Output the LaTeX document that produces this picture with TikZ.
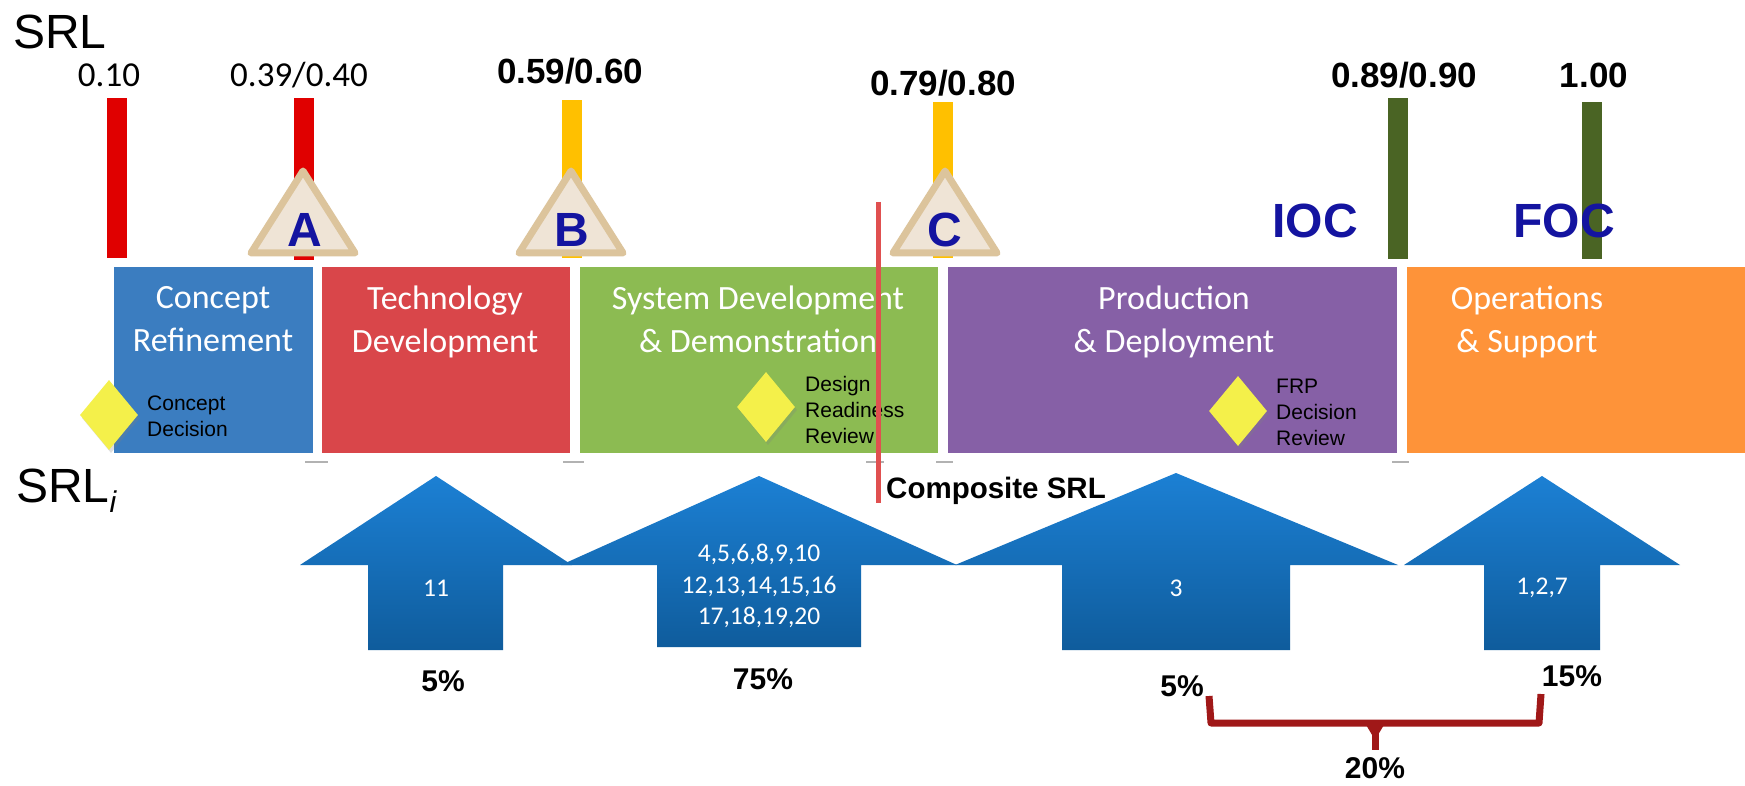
\documentclass[tikz,border=0pt]{standalone}
\usepackage{fontspec}
\setmainfont{Carlito}
\newfontfamily\arial{Liberation Sans}
\usetikzlibrary{shapes.geometric,shadows}
\definecolor{cblue}{HTML}{3B7DC0}
\definecolor{cred}{HTML}{D9464A}
\definecolor{cgreen}{HTML}{8CBB52}
\definecolor{cpurple}{HTML}{8660A6}
\definecolor{corange}{HTML}{FE9339}
\definecolor{barred}{HTML}{E00000}
\definecolor{baryellow}{HTML}{FFC000}
\definecolor{bargreen}{HTML}{4A6424}
\definecolor{trifill}{HTML}{EFE4D6}
\definecolor{triline}{HTML}{DCC49C}
\definecolor{letblue}{HTML}{1414A0}
\definecolor{arrtop}{HTML}{1C80D4}
\definecolor{arrbot}{HTML}{0F5C9C}
\definecolor{brkred}{HTML}{A01818}
\definecolor{compred}{HTML}{E05050}
\definecolor{diayel}{HTML}{F4F04A}
\tikzset{
  phase/.style={rectangle, draw=none, inner sep=0pt, minimum height=186pt, anchor=north west},
  phasetext/.style={text=white, font=\fontsize{34}{43}\selectfont, align=center, anchor=north, inner sep=0pt},
  srlbar/.style={rectangle, inner sep=0pt, minimum width=20pt, anchor=north},
  val/.style={font=\fontsize{35}{37}\selectfont, inner sep=0pt},
  valb/.style={font=\arial\bfseries\fontsize{35}{37}\selectfont, inner sep=0pt},
  gate/.style={fill=trifill, draw=triline, line width=7pt, line join=round},
  gateletter/.style={text=letblue, font=\arial\bfseries\fontsize{48}{48}\selectfont, inner sep=0pt},
  capname/.style={text=letblue, font=\arial\bfseries\fontsize{48}{48}\selectfont, inner sep=0pt},
  decision/.style={diamond, fill=diayel, draw=none, inner sep=0pt, minimum width=58pt, minimum height=70pt,
    drop shadow={opacity=0.25, shadow xshift=2pt, shadow yshift=-3pt}},
  declabel/.style={font=\arial\fontsize{21}{26}\selectfont, align=left, anchor=north west, inner sep=0pt},
  uparrow/.style={top color=arrtop, bottom color=arrbot, draw=none},
  arrtext/.style={text=white, font=\fontsize{25.5}{31.5}\selectfont, align=center, inner sep=0pt},
  pct/.style={font=\arial\bfseries\fontsize{30}{33}\selectfont, inner sep=0pt},
  bigsrl/.style={font=\arial\fontsize{48}{50}\selectfont, inner sep=0pt, anchor=base west},
  tick/.style={draw=gray!60, line width=2.5pt},
  brk/.style={draw=brkred, line width=7pt, line join=round}
}
\begin{document}
\begin{tikzpicture}[x=1pt,y=-1pt]
\useasboundingbox (0,0) rectangle (1745,786);
\fill[white] (0,0) rectangle (1745,786);

% SRL heading
\node[bigsrl] (srl) at (13,49) {SRL};

% bars
\node[srlbar, fill=barred, minimum height=160pt] (b1) at (117,98) {};
\node[srlbar, fill=barred, minimum height=162pt] (b2) at (304,98) {};
\node[srlbar, fill=baryellow, minimum height=158pt] (b3) at (572,100) {};
\node[srlbar, fill=baryellow, minimum height=156pt] (b4) at (943,102) {};
\node[srlbar, fill=bargreen, minimum height=161pt] (b5) at (1398,98) {};
\node[srlbar, fill=bargreen, minimum height=157pt] (b6) at (1592,102) {};

% values
\node[val] (v1) at (109,75) {0.10};
\node[val] (v2) at (299,75) {0.39/0.40};
\node[valb] (v3) at (570,71) {0.59/0.60};
\node[valb] (v4) at (943,83) {0.79/0.80};
\node[valb] (v5) at (1404,75) {0.89/0.90};
\node[valb] (v6) at (1594,75) {1.00};

% phases
\node[phase, fill=cblue, minimum width=199pt] (p1) at (114,267) {};
\node[phase, fill=cred, minimum width=248pt] (p2) at (322,267) {};
\node[phase, fill=cgreen, minimum width=358pt] (p3) at (580,267) {};
\node[phase, fill=cpurple, minimum width=449pt] (p4) at (948,267) {};
\node[phase, fill=corange, minimum width=338pt] (p5) at (1407,267) {};

\node[phasetext] (t1) at (213,286) {Concept\\Refinement};
\node[phasetext] (t2) at (445,286) {Technology\\Development};
\node[phasetext] (t3) at (758,286) {System Development\\\& Demonstration};
\node[phasetext] (t4) at (1174,286) {Production\\\& Deployment};
\node[phasetext] (t5) at (1527,286) {Operations\\\& Support};

% ticks under phases
\draw[tick] (305,462) -- (328,462);
\draw[tick] (563,462) -- (584,462);
\draw[tick] (866,462) -- (884,462);
\draw[tick] (936,462) -- (953,462);
\draw[tick] (1392,462) -- (1409,462);

% decision diamonds
\node[decision] (d1) at (109,415) {};
\node[declabel] (l1) at (147,396) {Concept\\Decision};
\node[decision] (d2) at (766,407) {};
\node[declabel] (l2) at (805,376) {Design\\Readiness\\Review};
\node[decision] (d3) at (1238,411) {};
\node[declabel] (l3) at (1276,379) {FRP\\Decision\\Review};

% milestone triangles
\draw[gate] (303,171) -- (355,253) -- (251,253) -- cycle;
\node[gateletter] (gA) at (305,230) {A};
\draw[gate] (571,171) -- (623,253) -- (519,253) -- cycle;
\node[gateletter] (gB) at (572,230) {B};
\draw[gate] (945,171) -- (997,253) -- (893,253) -- cycle;
\node[gateletter] (gC) at (945,230) {C};

% IOC / FOC
\node[capname] (ioc) at (1315,221) {IOC};
\node[capname] (foc) at (1564,221) {FOC};

% composite SRL line
\coordinate (ctop) at (878,202);
\coordinate (cbot) at (878,503);
\draw[compred, line width=5pt] (ctop) -- (cbot);
\node[font=\arial\bfseries\fontsize{29.5}{31}\selectfont, anchor=west, inner sep=0pt] (comp) at (886,491) {Composite SRL};

% SRL_i
\node[bigsrl] (srli) at (16,502) {SRL\raisebox{-10pt}{\fontsize{30}{30}\selectfont\itshape i}};

% up arrows
\shade[uparrow] (436,476) -- (572,565) -- (503,565) -- (503,650) -- (368,650) -- (368,565) -- (300,565) -- cycle;
\node[arrtext] (a1) at (436,588) {11};
\shade[uparrow] (759,476) -- (957,565) -- (861,565) -- (861,647) -- (657,647) -- (657,565) -- (561,565) -- cycle;
\node[arrtext] (a2) at (759,586) {4,5,6,8,9,10\\12,13,14,15,16\\17,18,19,20};
\shade[uparrow] (1176,473) -- (1398,565) -- (1290,565) -- (1290,650) -- (1062,650) -- (1062,565) -- (955,565) -- cycle;
\node[arrtext] (a3) at (1176,588) {3};
\shade[uparrow] (1542,476) -- (1680,565) -- (1600,565) -- (1600,650) -- (1484,650) -- (1484,565) -- (1404,565) -- cycle;
\node[arrtext] (a4) at (1542,588) {1,2,7};

% percentages
\node[pct] (q1) at (443,681) {5\%};
\node[pct] (q2) at (763,679) {75\%};
\node[pct] (q3) at (1182,686) {5\%};
\node[pct] (q4) at (1572,676) {15\%};
\node[pct] (q5) at (1375,768) {20\%};

% bracket
\draw[brk] (1209,696) -- (1211,723) -- (1539,723) -- (1541,694);
\draw[brk] (1369,723) -- (1375,733) -- (1381,723);
\draw[brk] (1375,728) -- (1375,750);
\end{tikzpicture}
\end{document}
